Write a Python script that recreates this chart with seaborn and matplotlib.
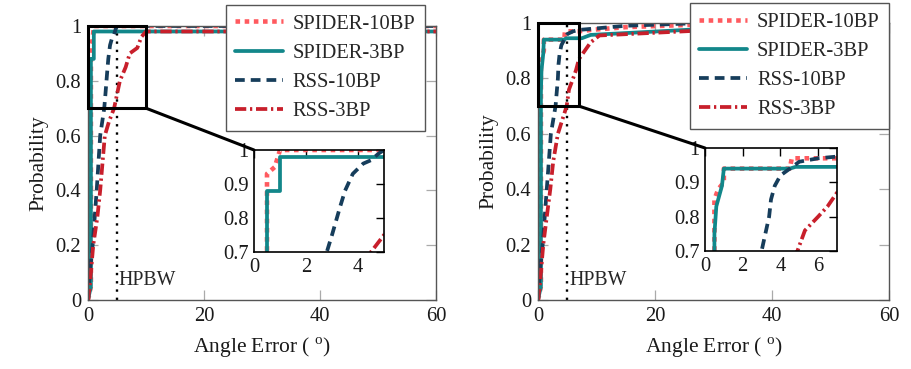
import numpy as np
import pandas as pd
import matplotlib
matplotlib.use("Agg")
import matplotlib.pyplot as plt
import seaborn as sns
from matplotlib.patches import Rectangle, ConnectionPatch

# ---------------- data ----------------
series_names = ["SPIDER-10BP", "SPIDER-3BP", "RSS-10BP", "RSS-3BP"]

# Left panel
s10_l_x = [0, 0.5, 0.5, 0.8, 1.0, 60]
s10_l_y = [0, 0.05, 0.93, 0.95, 1.0, 1.0]
s3_l_x = [0, 0.5, 0.5, 1.0, 1.0, 60]
s3_l_y = [0, 0.05, 0.88, 0.88, 0.98, 0.98]
r10_l_x = [0, 0.3, 0.8, 1.5, 2.1, 2.8, 3.0, 3.3, 3.5, 3.8, 4.2, 4.5, 4.8, 5.0, 60]
r10_l_y = [0, 0.1, 0.2, 0.4, 0.6, 0.7, 0.75, 0.83, 0.88, 0.93, 0.96, 0.97, 0.99, 1.0, 1.0]
r3_l_x = [0, 0.3, 0.9, 1.6, 2.1, 2.5, 2.9, 3.6, 4.5, 5.0, 5.5, 6.5, 7.2, 8.5, 9.2, 10, 60]
r3_l_y = [0, 0.05, 0.2, 0.3, 0.4, 0.5, 0.6, 0.65, 0.7, 0.75, 0.8, 0.85, 0.9, 0.92, 0.96, 0.98, 0.98]

# Right panel
s10_r_x = [0, 0.5, 0.5, 0.7, 1.0, 1.0, 4.5, 4.6, 7, 9, 15, 28, 60]
s10_r_y = [0, 0.05, 0.85, 0.88, 0.9, 0.94, 0.94, 0.97, 0.97, 0.975, 0.985, 0.995, 1.0]
s3_r_x = [0, 0.5, 0.5, 0.6, 0.9, 1.0, 4.5, 4.8, 7.5, 9, 27, 60]
s3_r_y = [0, 0.05, 0.75, 0.83, 0.89, 0.94, 0.94, 0.945, 0.945, 0.957, 0.977, 0.98]
r10_r_x = [0, 0.3, 0.8, 1.5, 2.2, 3.0, 3.2, 3.4, 3.5, 3.7, 4.0, 4.5, 5.0, 6.0, 7, 15, 28, 60]
r10_r_y = [0, 0.1, 0.2, 0.4, 0.6, 0.7, 0.75, 0.8, 0.85, 0.89, 0.92, 0.94, 0.96, 0.97, 0.975, 0.99, 1.0, 1.0]
r3_r_x = [0, 0.3, 0.9, 2.1, 2.6, 3.4, 4.9, 5.3, 6.0, 6.5, 7.0, 8, 9, 10.5, 27, 60]
r3_r_y = [0, 0.05, 0.2, 0.4, 0.5, 0.6, 0.7, 0.76, 0.8, 0.83, 0.87, 0.9, 0.93, 0.955, 0.972, 0.98]

main_xticks = [0, 20, 40, 60]
main_yticks = [0, 0.2, 0.4, 0.6, 0.8, 1]
inset_yticks = [0.7, 0.8, 0.9, 1]
left_inset_xticks = [0, 2, 4]
right_inset_xticks = [0, 2, 4, 6]
hpbw = 5

# ---------------- style ----------------
sns.set_theme(style="white")
plt.rcParams["font.family"] = ["Liberation Serif", "DejaVu Serif"]
plt.rcParams["mathtext.fontset"] = "custom"
plt.rcParams["mathtext.rm"] = "Liberation Serif"
FS = 14.8

colors = {"SPIDER-10BP": "#ff5a5f", "SPIDER-3BP": "#12878a",
          "RSS-10BP": "#163d5b", "RSS-3BP": "#c81f2b"}
styles = {"SPIDER-10BP": (0, (1, 1)), "SPIDER-3BP": "-",
          "RSS-10BP": (0, (2.6, 1.6)), "RSS-3BP": (0, (3, 1, 0.6, 1))}
widths = {"SPIDER-10BP": 3.3, "SPIDER-3BP": 2.7, "RSS-10BP": 2.7, "RSS-3BP": 2.7}


def make_df(data):
    rows = []
    for name, (xs, ys) in zip(series_names, data):
        for x, y in zip(xs, ys):
            rows.append((name, x, y))
    return pd.DataFrame(rows, columns=["series", "x", "y"])


def draw_lines(ax, df):
    for name in series_names:
        sub = df[df.series == name]
        sns.lineplot(data=sub, x="x", y="y", ax=ax, estimator=None, sort=True,
                     color=colors[name], linestyle=styles[name],
                     linewidth=widths[name], label=name, legend=False)


def fmt(v):
    return "%g" % v


fig = plt.figure(figsize=(9.12, 3.69), dpi=100)

panels = [
    dict(data=[(s10_l_x, s10_l_y), (s3_l_x, s3_l_y), (r10_l_x, r10_l_y), (r3_l_x, r3_l_y)],
         pos=[88 / 912, 1 - 300 / 369, 348 / 912, 274 / 369],
         ipos=[254 / 912, 1 - 252 / 369, 130 / 912, 102 / 369],
         ixlim=5, rect_w=10, ixticks=left_inset_xticks, leg=(0.968, 1.077)),
    dict(data=[(s10_r_x, s10_r_y), (s3_r_x, s3_r_y), (r10_r_x, r10_r_y), (r3_r_x, r3_r_y)],
         pos=[538 / 912, 1 - 300 / 369, 351 / 912, 277 / 369],
         ipos=[705 / 912, 1 - 251 / 369, 132 / 912, 103 / 369],
         ixlim=7, rect_w=7, ixticks=right_inset_xticks, leg=(1.0, 1.072)),
]

for p in panels:
    df = make_df(p["data"])
    ax = fig.add_axes(p["pos"])
    draw_lines(ax, df)
    ax.axvline(hpbw, color="black", linestyle=(0, (1, 2.5)), linewidth=1.7, zorder=1)
    ax.text(hpbw + 0.3, 0.035, "HPBW", fontsize=FS - 0.5, ha="left", va="bottom")
    ax.set_xlim(0, 60)
    ax.set_ylim(0, 1)
    ax.set_xticks(main_xticks)
    ax.set_xticklabels([fmt(v) for v in main_xticks])
    ax.set_yticks(main_yticks)
    ax.set_yticklabels([fmt(v) for v in main_yticks])
    ax.tick_params(direction="in", length=7, width=0.9, color="#aaaaaa",
                   top=True, right=True, bottom=True, left=True,
                   labelsize=FS, labelcolor="#1a1a1a", pad=5)
    for s in ax.spines.values():
        s.set_color("#555555")
        s.set_linewidth(1.0)
    ax.set_xlabel(r"Angle Error ( $^{\mathrm{o}}$)", fontsize=FS + 0.7, color="#1a1a1a", labelpad=7)
    ax.set_ylabel("Probability", fontsize=FS + 0.7, color="#1a1a1a", labelpad=5)

    # zoom rectangle
    ax.add_patch(Rectangle((0, 0.7), p["rect_w"], 0.3,
                           fill=False, edgecolor="black", linewidth=2.2, zorder=5, clip_on=False))

    leg = ax.legend(loc="upper right", bbox_to_anchor=p["leg"], fontsize=FS,
                    frameon=True, fancybox=False, framealpha=1, edgecolor="#555555",
                    handlelength=2.3, handletextpad=0.5, labelspacing=0.48,
                    borderpad=0.45, borderaxespad=0)
    leg.get_frame().set_linewidth(1.0)
    leg.set_zorder(10)

    iax = fig.add_axes(p["ipos"])
    draw_lines(iax, df)
    iax.set_xlim(0, p["ixlim"])
    iax.set_ylim(0.7, 1)
    iax.set_xticks(p["ixticks"])
    iax.set_xticklabels([fmt(v) for v in p["ixticks"]])
    iax.set_yticks(inset_yticks)
    iax.set_yticklabels([fmt(v) for v in inset_yticks])
    iax.set_xlabel("")
    iax.set_ylabel("")
    iax.tick_params(direction="in", length=6, width=1, color="black",
                    top=True, right=True, labelsize=FS, labelcolor="#1a1a1a", pad=4)
    for s in iax.spines.values():
        s.set_color("black")
        s.set_linewidth(1.2)

    con = ConnectionPatch(xyA=(p["rect_w"], 0.7), coordsA=ax.transData,
                          xyB=(0, 1), coordsB=iax.transData,
                          color="black", linewidth=2.2, zorder=6)
    fig.add_artist(con)

fig.savefig("out.png", dpi=100)
